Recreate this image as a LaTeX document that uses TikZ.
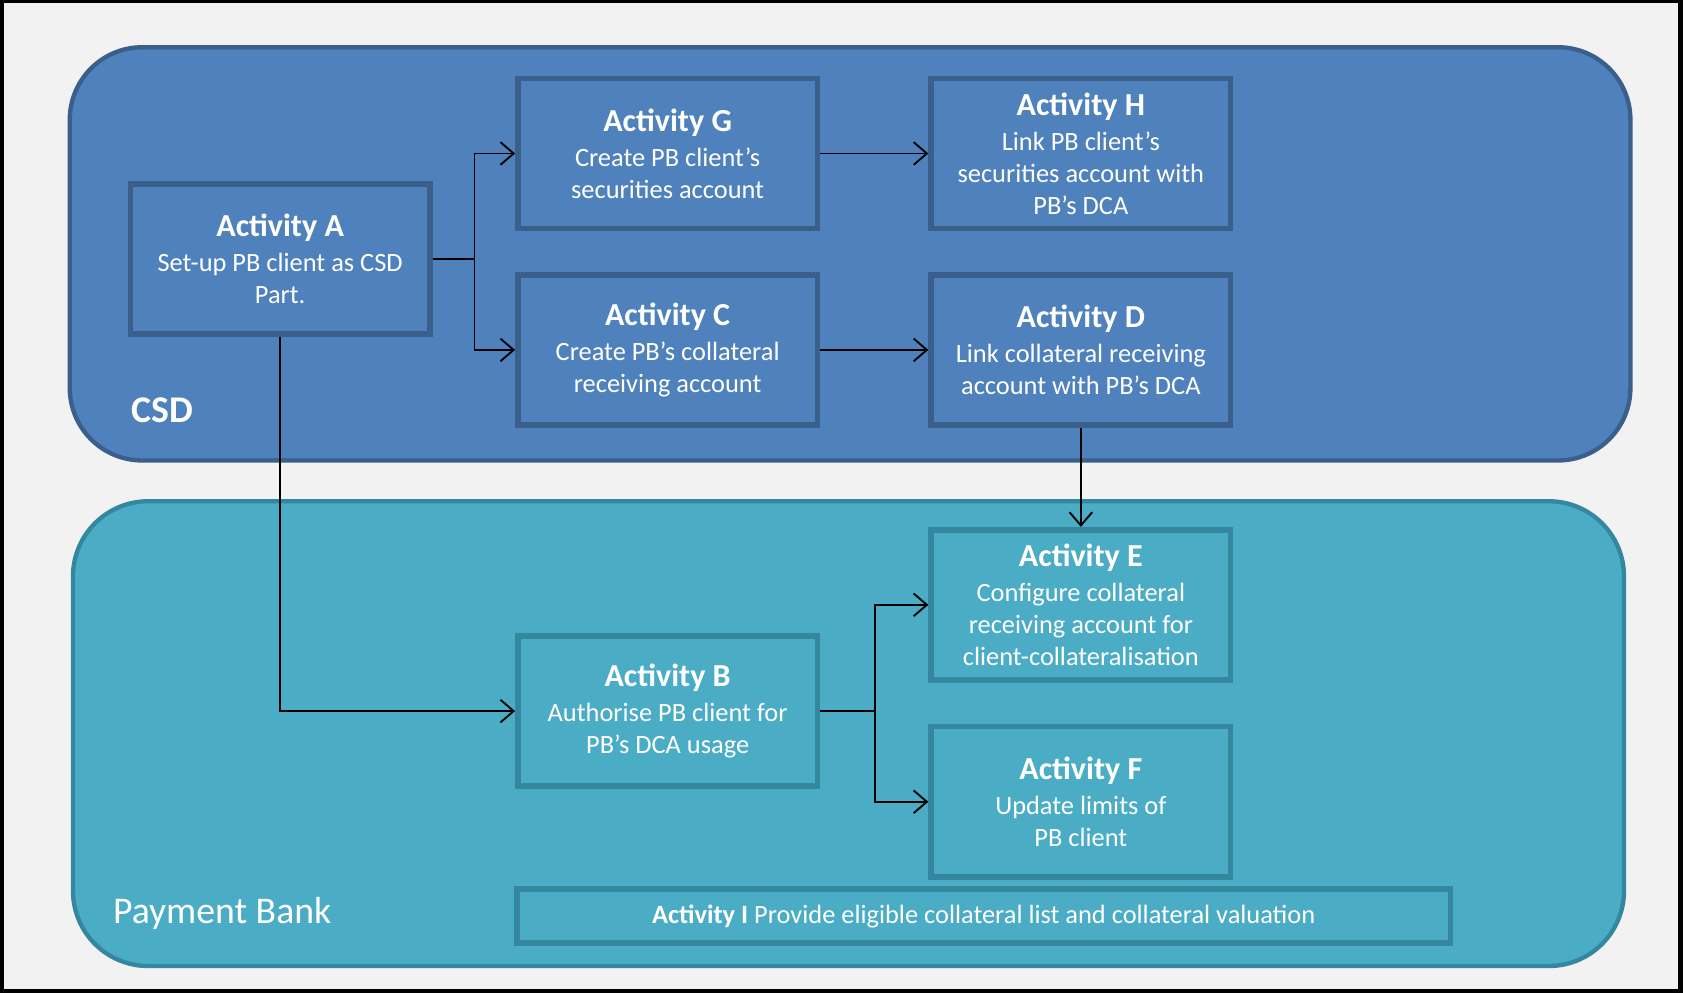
\documentclass[tikz,border=0pt]{standalone}
\usepackage{fontspec}
\setmainfont{Carlito}
\usetikzlibrary{arrows.meta}

\definecolor{csdfill}{HTML}{4F81BD}
\definecolor{csdline}{HTML}{3A5F8B}
\definecolor{pbfill}{HTML}{4BACC6}
\definecolor{pbline}{HTML}{3587A0}
\definecolor{bggray}{HTML}{F2F2F2}

\newcommand{\acttitle}[1]{{\fontsize{17}{20}\selectfont\bfseries Activity #1}\\[1.5pt]}

\tikzset{
    activity/.style = {draw, line width=3pt, minimum width=5.58cm, minimum height=2.8cm,
        inner sep=2pt, align=center, text=white, font=\fontsize{14}{17}\selectfont},
    csdbox/.style = {activity, draw=csdline, fill=csdfill},
    pbbox/.style = {activity, draw=pbline, fill=pbfill},
    flow/.style = {line width=1pt, -{Straight Barb[length=7pt, width=12pt]}}
}

\begin{document}
\begin{tikzpicture}[x=0.02cm, y=-0.02cm]
    \useasboundingbox (0,0) rectangle (1568,925);
    \fill[black] (0,0) rectangle (1568,925);
    \fill[bggray] (4,3) rectangle (1563,921);

    % swim lanes
    \draw[draw=csdline, fill=csdfill, line width=2.3pt, rounded corners=1.35cm] (65,44) rectangle (1519,429);
    \draw[draw=pbline, fill=pbfill, line width=2.3pt, rounded corners=1.4cm] (68,467) rectangle (1513,900);
    \node[text=white, font=\fontsize{20}{24}\selectfont\bfseries] (csd) at (151,382) {CSD};
    \node[text=white, font=\fontsize{20}{24}\selectfont] (pb) at (207,851) {Payment Bank};

    % CSD activities
    \node[csdbox] (actA) at (261,241.5) {\acttitle{A}Set-up PB client as CSD\\Part.};
    \node[csdbox] (actG) at (622,143) {\acttitle{G}Create PB client's\\securities account};
    \node[csdbox] (actH) at (1007,143) {\acttitle{H}Link PB client's\\securities account with\\PB's DCA};
    \node[csdbox] (actC) at (622,326) {\acttitle{C}Create PB's collateral\\receiving account};
    \node[csdbox] (actD) at (1007,326) {\acttitle{D}Link collateral receiving\\account with PB's DCA};

    % payment bank activities
    \node[pbbox] (actE) at (1007,563.5) {\acttitle{E}Configure collateral\\receiving account for\\client-collateralisation};
    \node[pbbox] (actB) at (622,662.5) {\acttitle{B}Authorise PB client for\\PB's DCA usage};
    \node[pbbox] (actF) at (1007,747) {\acttitle{F}Update limits of\\PB client};
    \node[pbbox, minimum width=17.4cm, minimum height=1cm] (actI) at (916.5,853.5)
        {\textbf{Activity I} Provide eligible collateral list and collateral valuation};

    % flows
    \draw[flow] (actA.east) -- ++(39,0) |- (actG.west);
    \draw[flow] (actA.east) -- ++(39,0) |- (actC.west);
    \draw[flow] (actG) -- (actH);
    \draw[flow] (actC) -- (actD);
    \draw[flow] (actD) -- (actE);
    \draw[flow] (actA.south) |- (actB.west);
    \draw[flow] (actB.east) -- ++(51,0) |- (actE.west);
    \draw[flow] (actB.east) -- ++(51,0) |- (actF.west);
\end{tikzpicture}
\end{document}
